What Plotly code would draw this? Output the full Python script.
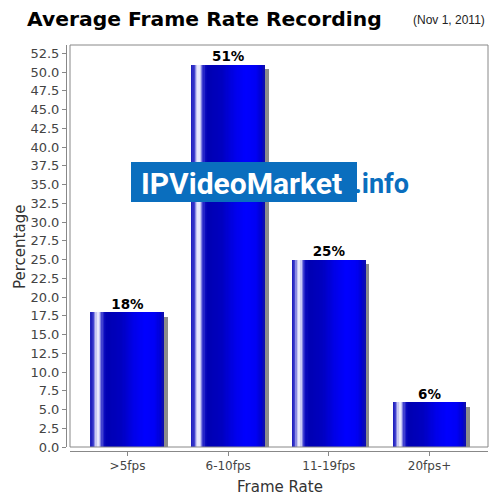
import plotly.graph_objects as go

# ---- data ----
categories = [">5fps", "6-10fps", "11-19fps", "20fps+"]
percentages = [18, 51, 25, 6]
labels = [f"{v}%" for v in percentages]
y_ticks = [i * 2.5 for i in range(22)]

title_text = "Average Frame Rate Recording"
subtitle_text = "(Nov 1, 2011)"
x_title = "Frame Rate"
y_title = "Percentage"

# ---- style ----
BAR_W = 0.725
N_STRIPS = 60
stops = [
    (0.00, (25, 25, 185)),
    (0.04, (60, 60, 205)),
    (0.07, (190, 190, 240)),
    (0.10, (250, 250, 255)),
    (0.125, (200, 200, 245)),
    (0.155, (70, 70, 210)),
    (0.19, (10, 10, 190)),
    (0.23, (0, 0, 178)),
    (0.42, (0, 0, 192)),
    (0.60, (0, 0, 235)),
    (0.75, (0, 0, 255)),
    (0.88, (0, 0, 245)),
    (0.96, (0, 0, 210)),
    (1.00, (15, 15, 170)),
]


def grad(f):
    for (f0, c0), (f1, c1) in zip(stops[:-1], stops[1:]):
        if f0 <= f <= f1:
            t = (f - f0) / (f1 - f0) if f1 > f0 else 0
            c = [round(a + (b - a) * t) for a, b in zip(c0, c1)]
            return f"rgb({c[0]},{c[1]},{c[2]})"
    c = stops[-1][1]
    return f"rgb({c[0]},{c[1]},{c[2]})"


fig = go.Figure()

# shadow
fig.add_trace(go.Bar(
    x=categories, y=[v - 0.6 for v in percentages],
    width=BAR_W, offset=-BAR_W / 2 + 0.04,
    marker=dict(color="#8c8c8c", line=dict(width=0)),
    hoverinfo="skip", showlegend=False,
))

# gradient strips
sw = BAR_W / N_STRIPS
for i in range(N_STRIPS):
    f = (i + 0.5) / N_STRIPS
    w = sw * 1.5 if i < N_STRIPS - 1 else sw
    fig.add_trace(go.Bar(
        x=categories, y=percentages,
        width=w, offset=-BAR_W / 2 + i * sw,
        marker=dict(color=grad(f), line=dict(width=0)),
        hoverinfo="skip", showlegend=False,
    ))

# value labels
fig.add_trace(go.Scatter(
    x=categories, y=percentages, mode="text", text=labels,
    textposition="top center",
    textfont=dict(family="DejaVu Sans", size=13.5, color="black", weight="bold"),
    showlegend=False, hoverinfo="skip",
))

L, R, T, B = 66, 12, 45, 49
PW, PH = 500 - L - R, 500 - T - B


def px(x):
    return (x - L) / PW


def py(y):
    return (500 - B - y) / PH


fig.update_layout(
    width=500, height=500,
    margin=dict(l=L, r=R, t=T, b=B),
    plot_bgcolor="white", paper_bgcolor="white",
    barmode="overlay", bargap=0,
    showlegend=False,
    title=dict(
        text=title_text, xref="container", yref="container",
        x=27 / 500, xanchor="left", y=1 - 19 / 500, yanchor="middle",
        font=dict(family="DejaVu Sans", size=20.3, color="black", weight="bold"),
    ),
    xaxis=dict(
        domain=[4 / PW, 1], anchor="free", position=0,
        range=[-0.571, 3.581], showline=True, linecolor="#888", linewidth=1,
        ticks="outside", ticklen=4, tickcolor="#888",
        tickfont=dict(family="DejaVu Sans", size=12, color="#444"),
        showgrid=False, zeroline=False, fixedrange=True,
    ),
    yaxis=dict(
        domain=[4 / PH, 1], anchor="free", position=0,
        range=[0, 53.6], tickvals=y_ticks, tickformat=".1f",
        showline=True, linecolor="#888", linewidth=1,
        ticks="outside", ticklen=4, tickcolor="#888",
        tickfont=dict(family="DejaVu Sans", size=13, color="#444"),
        showgrid=False, zeroline=False, fixedrange=True,
    ),
    shapes=[
        dict(type="rect", xref="x domain", yref="y domain", x0=0, x1=1, y0=0, y1=1,
             line=dict(color="#888", width=1), fillcolor="rgba(0,0,0,0)", layer="above"),
        dict(type="rect", xref="paper", yref="paper",
             x0=px(131), x1=px(357), y0=py(202), y1=py(162),
             line=dict(width=0), fillcolor="rgb(10,110,190)", layer="above"),
    ],
    annotations=[
        dict(text=subtitle_text, xref="paper", yref="paper", x=px(487), y=py(20),
             xanchor="right", yanchor="middle", showarrow=False,
             font=dict(family="Liberation Sans", size=12, color="#222")),
        dict(text=y_title, xref="paper", yref="paper", x=px(20), y=py(247),
             textangle=-90, xanchor="center", yanchor="middle", showarrow=False,
             font=dict(family="DejaVu Sans", size=15, color="#333")),
        dict(text=x_title, xref="paper", yref="paper", x=px(280), y=py(487),
             xanchor="center", yanchor="middle", showarrow=False,
             font=dict(family="DejaVu Sans", size=15, color="#333")),
        dict(text="IPVideoMarket", xref="paper", yref="paper", x=px(139), y=py(183),
             xanchor="left", yanchor="middle", showarrow=False,
             font=dict(family="Roboto", size=30, color="white", weight="bold")),
        dict(text=".info", xref="paper", yref="paper", x=px(352), y=py(184),
             xanchor="left", yanchor="middle", showarrow=False,
             font=dict(family="Roboto", size=27, color="rgb(10,110,190)", weight="bold")),
    ],
)

fig.write_html("out.html", config={"displayModeBar": False},
               post_script="document.body.style.margin='0';document.body.style.padding='0';")
